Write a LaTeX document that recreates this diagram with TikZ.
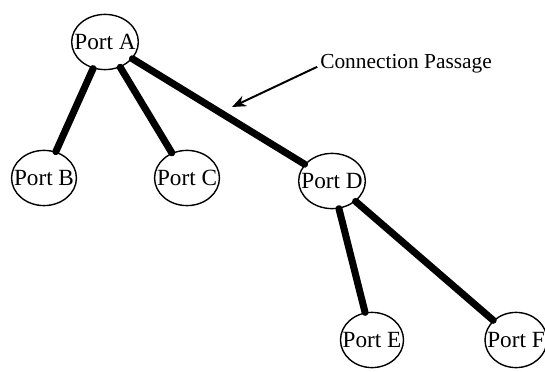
\documentclass[tikz,border=0pt]{standalone}
\usepackage{fontspec}
\setmainfont{Liberation Serif}
\usetikzlibrary{shapes.geometric, arrows.meta, positioning}

\begin{document}
\begin{tikzpicture}[
    port/.style={ellipse, draw, line width=1pt, minimum width=1.55cm, minimum height=1.38cm, inner xsep=-5pt, inner ysep=0pt, fill=white, font=\fontsize{16.5}{18}\selectfont},
    passage/.style={line width=5pt, line cap=round},
    pointer/.style={-{Stealth[length=10pt, width=8pt]}, line width=1.4pt}
]
\useasboundingbox (0,0) rectangle (13.625,-9.3);

% ---- ports ----
\node[port] (pA) at (2.625,-1.05) {Port A};
\node[port] (pB) at (1.1,-4.45)   {Port B};
\node[port] (pC) at (4.675,-4.45) {Port C};
\node[port] (pD) at (8.3,-4.525)  {Port D};
\node[port] (pE) at (9.3,-8.5)    {Port E};
\node[port] (pF) at (12.9,-8.5)   {Port F};

% ---- passages ----
\draw[passage] (pA) -- (pB);
\draw[passage] (pA) -- (pC);
\draw[passage] (pA) -- (pD);
\draw[passage] (pD) -- (pE);
\draw[passage] (pD) -- (pF);

% ---- label with arrow ----
\node[anchor=west, inner sep=0pt, font=\fontsize{15.2}{17}\selectfont] (lbl) at (8.0,-1.6) {Connection Passage};
\coordinate (tip) at (5.8,-2.675);
\draw[pointer] ([xshift=-2pt,yshift=-2pt]lbl.west) -- (tip);

\end{tikzpicture}
\end{document}
